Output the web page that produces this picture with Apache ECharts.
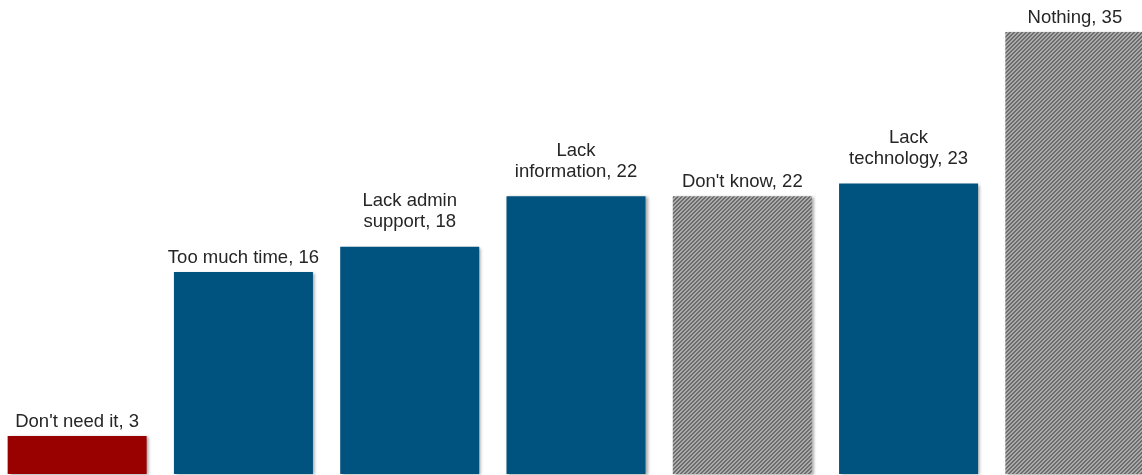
<!DOCTYPE html>
<html>
<head>
<meta charset="utf-8">
<style>
  html, body { margin: 0; padding: 0; background: #ffffff; overflow: hidden; }
  body { width: 1142px; height: 475px; position: relative; }
  /* plot area is slightly wider than the page so the last bar runs off the right edge */
  #chart { position: absolute; left: -6px; top: 0; width: 1164px; height: 475px; }
</style>
<script src="https://cdn.jsdelivr.net/npm/echarts@6/dist/echarts.min.js"></script>
</head>
<body>
<div id="chart"></div>
<script>
// Reasons given, with counts of respondents
const categories = [
  "Don't need it",
  "Too much time",
  "Lack admin\nsupport",
  "Lack\ninformation",
  "Don't know",
  "Lack\ntechnology",
  "Nothing"
];
const counts = [3, 16, 18, 22, 22, 23, 35];
// fill style of each bar: "red", "blue" or "hatch"
const fillKinds = ["red", "blue", "blue", "blue", "hatch", "blue", "hatch"];

// small diagonal-stripe tile used for the grey bars
function makeHatch() {
  const c = document.createElement('canvas');
  c.width = 4; c.height = 4;
  const ctx = c.getContext('2d');
  ctx.fillStyle = '#aaaaaa';
  ctx.fillRect(0, 0, 4, 4);
  ctx.fillStyle = '#6c6c6c';
  for (let i = 0; i < 4; i++) {
    ctx.fillRect(3 - i, i, 1, 1);
    ctx.fillRect((4 - i) % 4, i, 1, 1);
  }
  return c;
}
const hatch = makeHatch();

const fills = {
  red: '#990000',
  blue: '#00527f',
  hatch: { image: hatch, repeat: 'repeat' }
};

const chart = echarts.init(document.getElementById('chart'), null, { renderer: 'canvas' });
chart.setOption({
  animation: false,
  grid: { left: 0, right: 0, top: 32, bottom: 1, containLabel: false },
  xAxis: {
    type: 'category',
    data: categories,
    show: false
  },
  yAxis: {
    type: 'value',
    min: 0,
    max: 35,
    show: false
  },
  series: [{
    type: 'bar',
    barCategoryGap: '16.4%',
    data: counts.map((v, i) => ({
      value: v,
      itemStyle: { color: fills[fillKinds[i]] },
      // two-line labels sit a little higher above their bar
      label: { distance: categories[i].includes('\n') ? 14 : 4 }
    })),
    itemStyle: {
      shadowColor: 'rgba(0,0,0,0.35)',
      shadowBlur: 3,
      shadowOffsetX: 2,
      shadowOffsetY: 1
    },
    label: {
      show: true,
      position: 'top',
      distance: 4,
      formatter: '{b}, {c}',
      fontFamily: '"Liberation Sans", Arial, sans-serif',
      fontSize: 18.5,
      lineHeight: 21,
      color: '#262626'
    }
  }]
});
</script>
</body>
</html>
